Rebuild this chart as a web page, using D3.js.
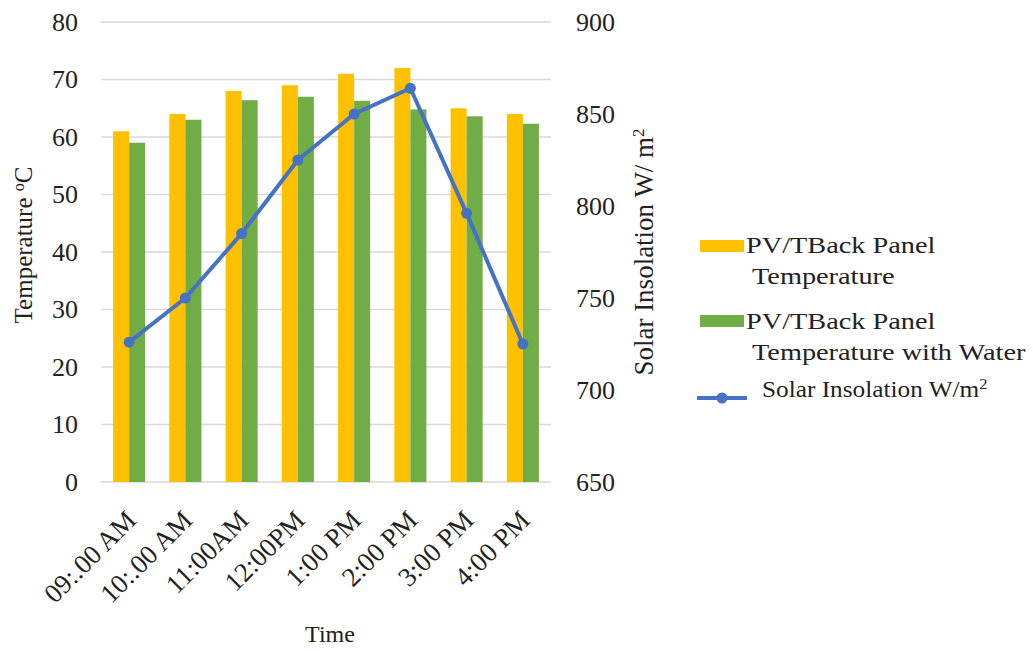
<!DOCTYPE html>
<html>
<head>
<meta charset="utf-8">
<script src="https://cdn.jsdelivr.net/npm/d3@7"></script>
<style>
body { margin: 0; background: #fff; }
text { font-family: "Liberation Serif", "Times New Roman", serif; fill: #222; }
</style>
</head>
<body>
<svg id="chart" width="1033" height="651"></svg>
<script>
const categories = ["09:.00 AM", "10:.00 AM", "11:00AM", "12:00PM", "1:00 PM", "2:00 PM", "3:00 PM", "4:00 PM"];
const backPanelTemp = [61, 64, 68, 69, 71, 72, 65, 64];
const backPanelTempWater = [59, 63, 66.4, 67, 66.3, 64.8, 63.6, 62.3];
const solarInsolation = [726, 750, 785, 825, 850, 864, 796, 725];
const leftTicks = [0, 10, 20, 30, 40, 50, 60, 70, 80];
const rightTicks = [650, 700, 750, 800, 850, 900];

const svg = d3.select("#chart");
const pLeft = 101, pRight = 551, pTop = 22, pBottom = 482;

const x0 = d3.scaleBand().domain(categories).range([pLeft, pRight]).paddingInner(0.43).paddingOuter(0.215);
const x1 = d3.scaleBand().domain(["a", "b"]).range([0, x0.bandwidth()]);
const yL = d3.scaleLinear().domain([0, 80]).range([pBottom, pTop]);
const yR = d3.scaleLinear().domain([650, 900]).range([pBottom, pTop]);

// gridlines
svg.append("g").selectAll("line").data(leftTicks).join("line")
  .attr("x1", pLeft).attr("x2", pRight)
  .attr("y1", d => yL(d)).attr("y2", d => yL(d))
  .attr("stroke", "#d9d9d9").attr("stroke-width", 1.3);

// left axis
const axL = svg.append("g").attr("transform", `translate(${pLeft - 23},0)`)
  .call(d3.axisLeft(yL).tickValues(leftTicks).tickSize(0).tickPadding(0));
axL.select(".domain").remove();
axL.selectAll("text").style("font-size", "26px").attr("fill", "#222").attr("font-family", "Liberation Serif");

// right axis
const axR = svg.append("g").attr("transform", `translate(${pRight + 25},0)`)
  .call(d3.axisRight(yR).tickValues(rightTicks).tickSize(0).tickPadding(0));
axR.select(".domain").remove();
axR.selectAll("text").style("font-size", "26px").attr("fill", "#222").attr("font-family", "Liberation Serif");

// bars
const groups = svg.append("g").selectAll("g").data(categories).join("g")
  .attr("transform", d => `translate(${x0(d)},0)`);
groups.append("rect")
  .attr("x", x1("a")).attr("width", x1.bandwidth())
  .attr("y", (d, i) => yL(backPanelTemp[i]))
  .attr("height", (d, i) => yL(0) - yL(backPanelTemp[i]))
  .attr("fill", "#FFC000");
groups.append("rect")
  .attr("x", x1("b")).attr("width", x1.bandwidth())
  .attr("y", (d, i) => yL(backPanelTempWater[i]))
  .attr("height", (d, i) => yL(0) - yL(backPanelTempWater[i]))
  .attr("fill", "#70AD47");

// line
const cx = d => x0(d) + x0.bandwidth() / 2;
svg.append("path")
  .datum(categories)
  .attr("fill", "none").attr("stroke", "#4472C4").attr("stroke-width", 4)
  .attr("stroke-linejoin", "round")
  .attr("d", d3.line().x(d => cx(d)).y((d, i) => yR(solarInsolation[i])));
svg.append("g").selectAll("circle").data(categories).join("circle")
  .attr("cx", d => cx(d)).attr("cy", (d, i) => yR(solarInsolation[i]))
  .attr("r", 5.5).attr("fill", "#4472C4");

// x axis labels
svg.append("g").selectAll("text").data(categories).join("text")
  .attr("transform", d => `translate(${cx(d) + 2},${pBottom + 33}) rotate(-45)`)
  .attr("text-anchor", "end")
  .attr("dy", "0.35em")
  .style("font-size", "27px")
  .text(d => d);

// axis titles
svg.append("text").attr("x", 330).attr("y", 642).attr("text-anchor", "middle")
  .style("font-size", "24px").text("Time");

const tl = svg.append("text").attr("transform", "translate(32,245) rotate(-90)")
  .attr("text-anchor", "middle").style("font-size", "25px");
tl.append("tspan").text("Temperature  ");
tl.append("tspan").attr("baseline-shift", "super").style("font-size", "16px").text("o");
tl.append("tspan").text("C");

const tr = svg.append("text").attr("transform", "translate(653,252) rotate(-90)")
  .attr("text-anchor", "middle").style("font-size", "27px");
tr.append("tspan").text("Solar Insolation  W/ m");
tr.append("tspan").attr("baseline-shift", "super").style("font-size", "17px").text("2");

// legend
const lg = svg.append("g");
const ltext = (x, y, s) => lg.append("text")
  .attr("transform", `translate(${x},${y}) scale(1.18,1)`)
  .style("font-size", "24px").text(s);
lg.append("rect").attr("x", 700).attr("y", 240).attr("width", 44).attr("height", 12).attr("fill", "#FFC000");
ltext(746, 253, "PV/TBack Panel");
ltext(752, 284, "Temperature");
lg.append("rect").attr("x", 700).attr("y", 315).attr("width", 44).attr("height", 12).attr("fill", "#70AD47");
ltext(746, 329, "PV/TBack Panel");
ltext(752, 360, "Temperature with Water");
lg.append("line").attr("x1", 697).attr("x2", 747).attr("y1", 398).attr("y2", 398)
  .attr("stroke", "#4472C4").attr("stroke-width", 4);
lg.append("circle").attr("cx", 722).attr("cy", 398).attr("r", 5.5).attr("fill", "#4472C4");
const lt = lg.append("text").attr("transform", "translate(762,397) scale(1.1,1)").style("font-size", "23px");
lt.append("tspan").text("Solar Insolation W/m");
lt.append("tspan").attr("baseline-shift", "super").style("font-size", "15px").text("2");
</script>
</body>
</html>
